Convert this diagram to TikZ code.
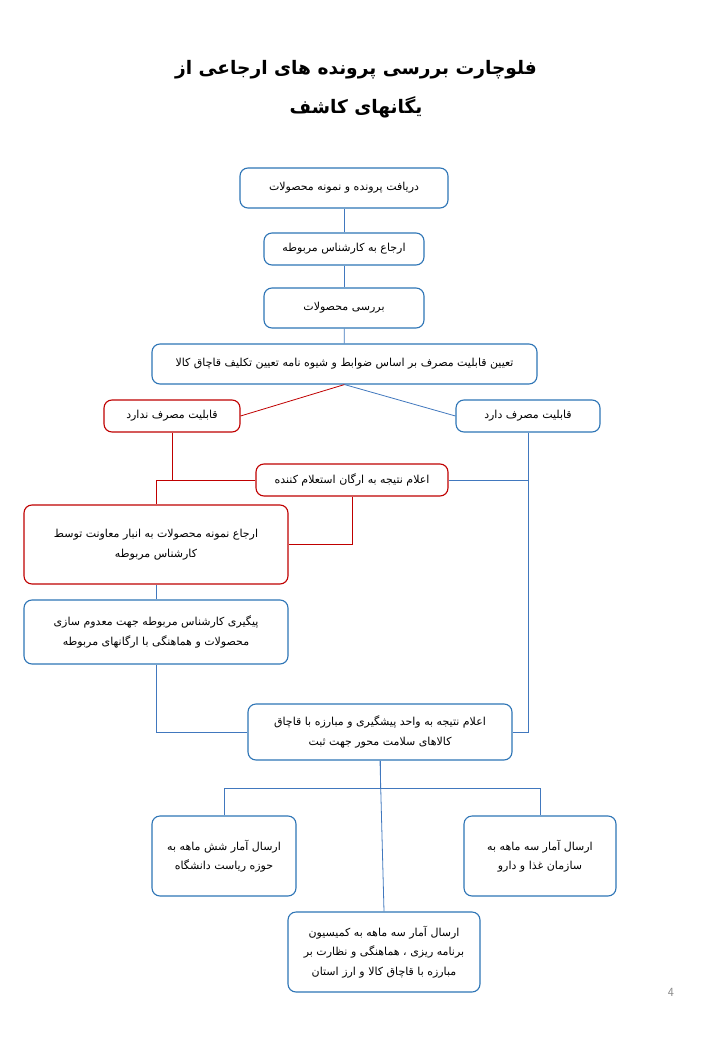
\documentclass[tikz,border=0pt]{standalone}
\usepackage{fontspec}
\newfontfamily\arabicfont[Script=Arabic]{DejaVu Sans}
\TeXXeTstate=1
\definecolor{bbox}{RGB}{46,117,182}
\definecolor{bline}{RGB}{65,120,190}
\definecolor{rbox}{RGB}{192,0,0}
\definecolor{pnum}{RGB}{137,137,137}
\tikzset{
  fbox/.style={draw=bbox, line width=1.1pt, rounded corners=8pt, fill=white, align=center,
     inner sep=2pt, font=\arabicfont\fontsize{11}{19.5}\selectfont},
  rfbox/.style={fbox, draw=rbox},
  bconn/.style={draw=bline, line width=0.8pt},
  rconn/.style={draw=rbox, line width=0.8pt},
}
\begin{document}
\begin{tikzpicture}[x=1pt,y=-1pt]
\useasboundingbox[fill=white] (0,0) rectangle (720,1040);
% title
\node[font=\arabicfont\bfseries\fontsize{18.6}{39}\selectfont, align=center] (title) at (356,89)
  {\beginR فلوچارت بررسی پرونده های ارجاعی از\endR\\ \beginR یگانهای کاشف\endR};
% boxes
\node[fbox, minimum width=208pt, minimum height=40pt] (n1) at (344,188) {\beginR دریافت پرونده و نمونه محصولات\endR};
\node[fbox, minimum width=160pt, minimum height=32pt] (n2) at (344,249) {\beginR ارجاع به کارشناس مربوطه\endR};
\node[fbox, minimum width=160pt, minimum height=40pt] (n3) at (344,308) {\beginR بررسی محصولات\endR};
\node[fbox, minimum width=385pt, minimum height=40pt] (n4) at (344.5,364) {\beginR تعیین قابلیت مصرف بر اساس ضوابط و شیوه نامه تعیین تکلیف قاچاق کالا\endR};
\node[rfbox, minimum width=136pt, minimum height=32pt] (n5) at (172,416) {\beginR قابلیت مصرف ندارد\endR};
\node[fbox, minimum width=144pt, minimum height=32pt] (n6) at (528,416) {\beginR قابلیت مصرف دارد\endR};
\node[rfbox, minimum width=192pt, minimum height=32pt] (n7) at (352,480) {\beginR اعلام نتیجه به ارگان استعلام کننده\endR};
\node[rfbox, minimum width=264pt, minimum height=79pt] (n8) at (156,544.5) {\beginR ارجاع نمونه محصولات به انبار معاونت توسط\endR\\ \beginR کارشناس مربوطه\endR};
\node[fbox, minimum width=264pt, minimum height=64pt] (n9) at (156,632) {\beginR پیگیری کارشناس مربوطه جهت معدوم سازی\endR\\ \beginR محصولات و هماهنگی با ارگانهای مربوطه\endR};
\node[fbox, minimum width=264pt, minimum height=56pt] (n10) at (380,732) {\beginR اعلام نتیجه به واحد پیشگیری و مبارزه با قاچاق\endR\\ \beginR کالاهای سلامت محور جهت ثبت\endR};
\node[fbox, minimum width=144pt, minimum height=80pt] (n11) at (224,856) {\beginR ارسال آمار شش ماهه به\endR\\ \beginR حوزه ریاست دانشگاه\endR};
\node[fbox, minimum width=152pt, minimum height=80pt] (n12) at (540,856) {\beginR ارسال آمار سه ماهه به\endR\\ \beginR سازمان غذا و دارو\endR};
\node[fbox, minimum width=192pt, minimum height=80pt] (n13) at (384,952) {\beginR ارسال آمار سه ماهه به کمیسیون\endR\\ \beginR برنامه ریزی ، هماهنگی و نظارت بر\endR\\ \beginR مبارزه با قاچاق کالا و ارز استان\endR};
\node[text=pnum, font=\sffamily\fontsize{12.5}{14}\selectfont] (pg) at (671,992) {4};
% connectors
\draw[bconn] (n1) -- (n2);
\draw[bconn] (n2) -- (n3);
\draw[bconn] (n3) -- (n4);
\draw[rconn] (n4.south) -- (n5.east);
\draw[bconn] (n4.south) -- (n6.west);
\draw[rconn] (n5.south) -- (n5.south |- n7.west);
\draw[rconn] (n7.west) -- (n7.west -| n8.north) -- (n8.north);
\draw[rconn] (n7.south) |- (n8.east);
\draw[bconn] (n7.east) -- (n7.east -| n6.south);
\draw[bconn] (n6.south) |- (n10.east);
\draw[bconn] (n8) -- (n9);
\draw[bconn] (n9.south) |- (n10.west);
\coordinate (j) at (380,788);
\draw[bconn] (n10.south) -- (j);
\draw[bconn] (n11.north) -- (n11.north |- j) -- (n12.north |- j) -- (n12.north);
\draw[bconn] (n10.south) -- (n13.north);
\end{tikzpicture}
\end{document}
